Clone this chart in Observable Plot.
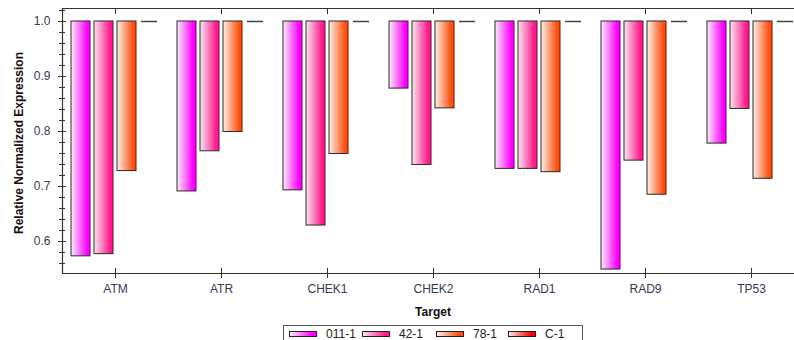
<!DOCTYPE html>
<html>
<head>
<meta charset="utf-8">
<script src="https://cdn.jsdelivr.net/npm/d3@7"></script>
<script src="https://cdn.jsdelivr.net/npm/@observablehq/plot@0.6"></script>
<style>
  body { margin: 0; background: #fff; font-family: "Liberation Sans", Arial, sans-serif; }
  #wrap { position: relative; width: 794px; height: 340px; overflow: hidden; background: #fff; }
  #ylabel { position: absolute; left: 19px; top: 143px; transform: translate(-50%, -50%) rotate(-90deg);
            font-size: 12px; font-weight: bold; white-space: nowrap; color: #111; }
  #xlabel { position: absolute; left: 433px; top: 312px; transform: translate(-50%, -50%);
            font-size: 12px; font-weight: bold; color: #111; }
  #legend { position: absolute; left: 283px; top: 325px; width: 300px; height: 30px;
            border: 1px solid #555; box-sizing: border-box; background: #fff; }
  .li { position: absolute; top: 1px; font-size: 12px; color: #222; display: flex; align-items: center; }
  .sw { width: 26px; height: 4px; border: 1px solid #222; margin-right: 9px; }
</style>
</head>
<body>
<div id="wrap">
  <div id="chart"></div>
  <div id="ylabel">Relative Normalized Expression</div>
  <div id="xlabel">Target</div>
  <div id="legend"></div>
</div>
<script>
const targets = ["ATM", "ATR", "CHEK1", "CHEK2", "RAD1", "RAD9", "TP53"];
const samples = ["011-1", "42-1", "78-1", "C-1"];
const val011 = [0.573, 0.691, 0.693, 0.878, 0.732, 0.549, 0.778];
const val42  = [0.577, 0.764, 0.629, 0.739, 0.732, 0.747, 0.841];
const val78  = [0.728, 0.799, 0.759, 0.842, 0.726, 0.685, 0.714];
const valC1  = [1.0, 1.0, 1.0, 1.0, 1.0, 1.0, 1.0];
const yMajor = [0.6, 0.7, 0.8, 0.9, 1.0];
const yMinor = [0.56, 0.58, 0.62, 0.64, 0.66, 0.68, 0.72, 0.74, 0.76, 0.78, 0.82, 0.84, 0.86, 0.88, 0.92, 0.94, 0.96, 0.98, 1.02];
const yDomain = [0.5418, 1.0236];
const gradIds = ["g011", "g42", "g78", "gC1"];
const gradLight = ["#ffeaff", "#ffe6f2", "#fff0e6", "#ffe6e6"];
const gradDark  = ["#ff00ff", "#ff1a8c", "#ff4d0d", "#ff0000"];

const series = [val011, val42, val78, valC1];
const rows = targets.flatMap((t, i) => samples.map((s, j) => ({
  target: t, sample: s, value: series[j][i], base: 1, grad: `url(#${gradIds[j]})`
})));
const barRows = rows.filter(d => d.value < 1);
const flatRows = rows.filter(d => d.value >= 1);
const blank = () => "";

const chart = Plot.plot({
  width: 794, height: 318,
  marginLeft: 62, marginRight: -10, marginTop: 8, marginBottom: 45,
  style: { fontFamily: "Liberation Sans, Arial, sans-serif", fontSize: "12px", color: "#333", background: "transparent", overflow: "visible" },
  fx: { domain: targets, padding: 0 },
  x: { domain: samples, paddingInner: 1 / 6, paddingOuter: 0.2917, axis: null },
  y: { domain: yDomain },
  color: { type: "identity" },
  marks: [
    Plot.barY(barRows, { fx: "target", x: "sample", y1: "base", y2: "value", fill: "grad", stroke: "#2a2a2a", strokeWidth: 1 }),
    Plot.tickY(flatRows, { fx: "target", x: "sample", y: "value", stroke: "#444", strokeWidth: 1.5, insetLeft: 1, insetRight: 2 }),
    Plot.ruleY([yDomain[0]], { stroke: "#333", strokeWidth: 1.2 }),
    Plot.ruleY([yDomain[1]], { stroke: "#333", strokeWidth: 1.2 }),
    Plot.frame({ anchor: "left", facetAnchor: "left", stroke: "#333", strokeWidth: 1.2 }),
    Plot.axisY({ ticks: yMajor, tickSize: 4, tickPadding: 8, tickFormat: d3.format(".1f"), label: null, stroke: "#333", fill: "#333a55" }),
    Plot.axisY({ ticks: yMajor, tickSize: -4, tickFormat: blank, label: null, stroke: "#333" }),
    Plot.axisY({ ticks: yMinor, tickSize: 3, tickFormat: blank, label: null, stroke: "#333" }),
    Plot.axisY({ ticks: yMinor, tickSize: -3, tickFormat: blank, label: null, stroke: "#333" }),
    Plot.axisFx({ anchor: "bottom", tickSize: 5, tickPadding: 6, label: null, stroke: "#333", fill: "#333a55" }),
    Plot.axisFx({ anchor: "bottom", tickSize: -5, tickFormat: blank, label: null, stroke: "#333" }),
    Plot.axisFx({ anchor: "top", tickSize: -5, tickFormat: blank, label: null, stroke: "#333" })
  ]
});

// gradient definitions for bar fills
const ns = "http://www.w3.org/2000/svg";
const defs = document.createElementNS(ns, "defs");
gradIds.forEach((id, k) => {
  const g = document.createElementNS(ns, "linearGradient");
  g.setAttribute("id", id);
  g.setAttribute("x1", "0"); g.setAttribute("x2", "1"); g.setAttribute("y1", "0"); g.setAttribute("y2", "0");
  [[0, gradLight[k]], [0.85, gradDark[k]], [1, gradDark[k]]].forEach(([o, c]) => {
    const st = document.createElementNS(ns, "stop");
    st.setAttribute("offset", o); st.setAttribute("stop-color", c);
    g.appendChild(st);
  });
  defs.appendChild(g);
});
chart.insertBefore(defs, chart.firstChild);
document.getElementById("chart").appendChild(chart);

// legend
const legend = document.getElementById("legend");
const legendX = [5, 78, 152, 224];
samples.forEach((s, k) => {
  const item = document.createElement("div");
  item.className = "li";
  item.style.left = legendX[k] + "px";
  const sw = document.createElement("div");
  sw.className = "sw";
  sw.style.background = `linear-gradient(to right, ${gradLight[k]}, ${gradDark[k]} 85%)`;
  const tx = document.createElement("span");
  tx.textContent = s;
  item.appendChild(sw); item.appendChild(tx);
  legend.appendChild(item);
});
</script>
</body>
</html>
